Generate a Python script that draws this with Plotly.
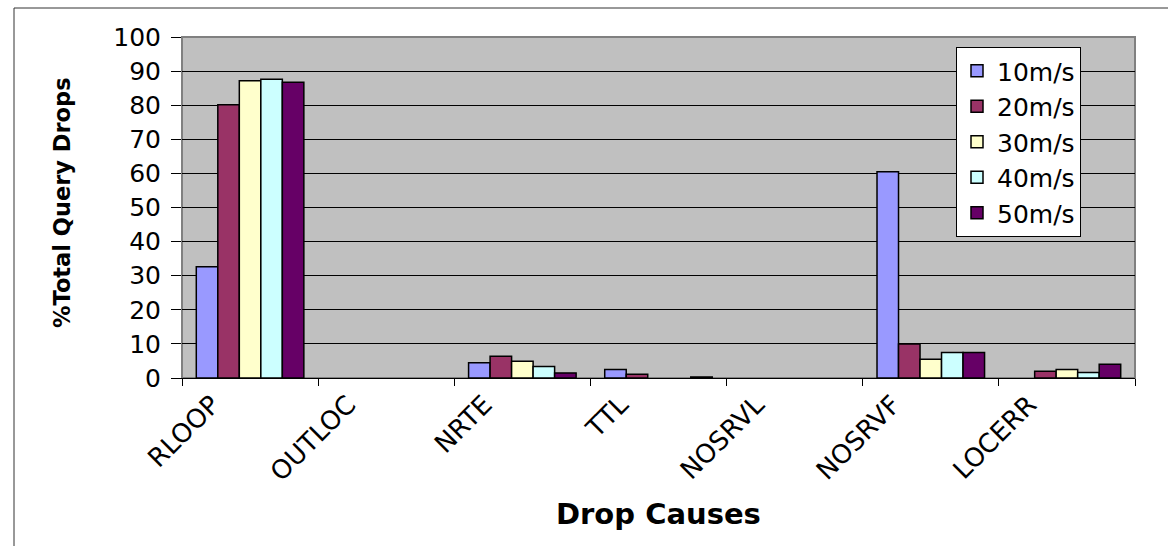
import plotly.graph_objects as go

categories = ["RLOOP", "OUTLOC", "NRTE", "TTL", "NOSRVL", "NOSRVF", "LOCERR"]
series_names = ["10m/s", "20m/s", "30m/s", "40m/s", "50m/s"]
v10 = [32.6, 0, 4.5, 2.5, 0, 60.5, 0]
v20 = [80.1, 0, 6.4, 1.1, 0, 10.0, 2.0]
v30 = [87.2, 0, 4.9, 0, 0, 5.5, 2.5]
v40 = [87.6, 0, 3.4, 0, 0, 7.5, 1.6]
v50 = [86.7, 0, 1.5, 0.3, 0, 7.5, 4.0]
series_values = [v10, v20, v30, v40, v50]
colors = ["#9999FF", "#993366", "#FFFFCC", "#CCFFFF", "#660066"]
y_ticks = [0, 10, 20, 30, 40, 50, 60, 70, 80, 90, 100]

FONT = "DejaVu Sans"

fig = go.Figure()
for name, vals, col in zip(series_names, series_values, colors):
    # zero values draw no bar (avoid a stray outline on the baseline)
    shown = [v if v > 0 else None for v in vals]
    fig.add_trace(go.Bar(
        x=categories, y=shown, name=name,
        marker=dict(color=col, line=dict(color="black", width=1.5)),
    ))

W, H = 1168, 546
L, R, T, B = 182, 33, 37, 168
pw, ph = W - L - R, H - T - B

def px_to_paper_x(px):
    return (px - L) / pw

def px_to_paper_y(py):
    return (H - B - py) / ph

fig.update_layout(
    width=W, height=H,
    margin=dict(l=L, r=R, t=T, b=B),
    paper_bgcolor="white",
    plot_bgcolor="#C0C0C0",
    barmode="group",
    bargap=0.21,
    bargroupgap=0,
    font=dict(family=FONT, color="black"),
    legend=dict(
        x=px_to_paper_x(956), y=px_to_paper_y(47),
        xanchor="left", yanchor="top",
        bgcolor="white", bordercolor="black", borderwidth=1,
        font=dict(family=FONT, size=25, color="black"),
        entrywidth=95, entrywidthmode="pixels",
        itemclick=False,
    ),
    xaxis=dict(
        type="category",
        tickangle=-45,
        tickson="boundaries",
        ticks="outside", ticklen=7, tickcolor="black", tickwidth=1,
        tickfont=dict(family=FONT, size=26, color="black"),
        ticklabelshift=-38,
        showline=True, linecolor="black", linewidth=1,
        showgrid=False,
        range=[-0.5, 6.5],
    ),
    yaxis=dict(
        range=[0, 100],
        tickvals=y_ticks,
        ticks="outside", ticklen=10, tickcolor="black", tickwidth=1,
        tickfont=dict(family=FONT, size=25, color="black"),
        ticklabelstandoff=5,
        showline=True, linecolor="#808080", linewidth=1,
        showgrid=True, gridcolor="black", gridwidth=1,
        zeroline=False,
    ),
    showlegend=True,
)

# axis titles as annotations for exact placement
fig.add_annotation(
    text="<b>%Total Query Drops</b>", textangle=-90,
    xref="paper", yref="paper",
    x=px_to_paper_x(62), y=px_to_paper_y(203),
    xanchor="center", yanchor="middle", showarrow=False,
    font=dict(family=FONT, size=22.5, color="black"),
)
fig.add_annotation(
    text="<b>Drop Causes</b>",
    xref="paper", yref="paper",
    x=0.5, y=px_to_paper_y(514),
    xanchor="center", yanchor="middle", showarrow=False,
    font=dict(family=FONT, size=29, color="black"),
)

# plot area border (gray) and outer chart border
fig.add_shape(type="rect", xref="paper", yref="paper", x0=0, y0=0, x1=1, y1=1,
              line=dict(color="#808080", width=2), layer="below")
fig.add_shape(type="rect", xref="paper", yref="paper",
              x0=px_to_paper_x(14), y0=px_to_paper_y(600),
              x1=px_to_paper_x(1200), y1=px_to_paper_y(8),
              line=dict(color="#333333", width=1), fillcolor="rgba(0,0,0,0)", layer="above")

fig.write_html("out.html")
